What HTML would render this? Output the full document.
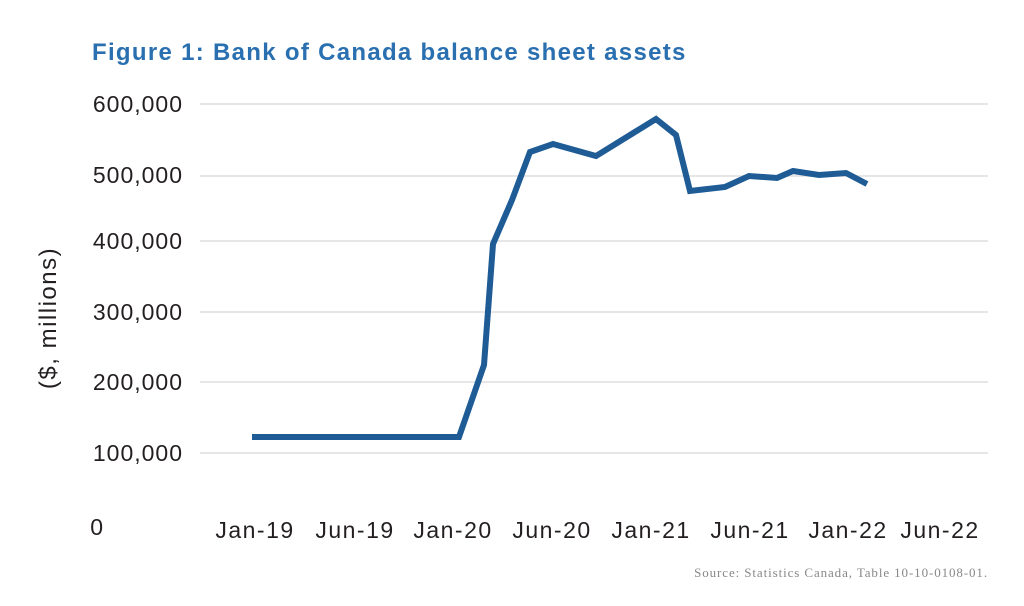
<!DOCTYPE html>
<html><head><style>
body{margin:0;background:#fff;}
svg text{font-family:"Liberation Sans",sans-serif;}
</style></head><body>
<svg width="1024" height="601" viewBox="0 0 1024 601" xmlns="http://www.w3.org/2000/svg">
<text x="92" y="60" font-size="24" font-weight="bold" letter-spacing="1.3" fill="#2a6fb0">Figure 1: Bank of Canada balance sheet assets</text>
<g stroke="#e6e6e6" stroke-width="2">
<line x1="200" x2="988" y1="104" y2="104"/>
<line x1="200" x2="988" y1="176" y2="176"/>
<line x1="200" x2="988" y1="241" y2="241"/>
<line x1="200" x2="988" y1="312" y2="312"/>
<line x1="200" x2="988" y1="382" y2="382"/>
<line x1="200" x2="988" y1="453" y2="453"/>
</g>
<g font-size="23" fill="#231f20" text-anchor="end" letter-spacing="1">
<text x="183" y="112">600,000</text>
<text x="183" y="183">500,000</text>
<text x="183" y="249">400,000</text>
<text x="183" y="320">300,000</text>
<text x="183" y="390">200,000</text>
<text x="183" y="461">100,000</text>
<text x="104" y="535">0</text>
</g>
<text transform="translate(56,318) rotate(-90)" font-size="24" letter-spacing="1.5" fill="#231f20" text-anchor="middle">($, millions)</text>
<g font-size="23" fill="#231f20" text-anchor="middle" letter-spacing="1.5">
<text x="255" y="538">Jan-19</text>
<text x="355" y="538">Jun-19</text>
<text x="453" y="538">Jan-20</text>
<text x="552" y="538">Jun-20</text>
<text x="651" y="538">Jan-21</text>
<text x="750" y="538">Jun-21</text>
<text x="848" y="538">Jan-22</text>
<text x="940" y="538">Jun-22</text>
</g>
<polyline fill="none" stroke="#1f5c96" stroke-width="6" stroke-linejoin="miter" points="252,437 459,437 484,365 493,244 512,200 530,152 553,144 596,156 656,119 676,135 690,191 725,187 749,176 777,178 793,171 819,175 846,173 867,184"/>
<text x="988" y="577" font-size="13" letter-spacing="0.9" fill="#888" text-anchor="end" style="font-family:'Liberation Serif',serif">Source: Statistics Canada, Table 10-10-0108-01.</text>
</svg>
</body></html>
